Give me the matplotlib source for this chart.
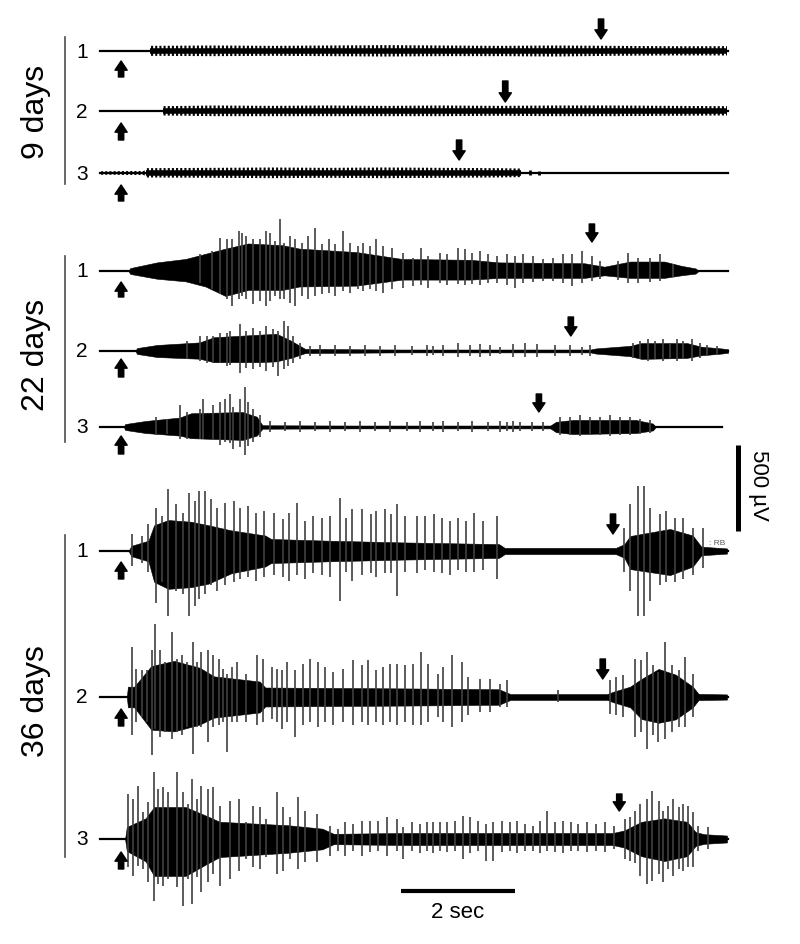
import numpy as np
import matplotlib
matplotlib.use('Agg')
import matplotlib.pyplot as plt

plt.rcParams['font.family'] = ['Liberation Sans', 'DejaVu Sans']

# ---------------- data: time in s, amplitude in uV ----------------
stim_on = [0.37] * 9
stim_off = [8.79, 7.11, 6.30, 8.63, 8.26, 7.70, 9.00, 8.82, 9.11]
trace_end = [11.02, 11.02, 11.02, 11.02, 11.02, 10.91, 11.02, 11.02, 11.02]

# 9 days (rhythmic small discharges)
d9_1_t = [0.87, 0.88, 2.0, 3.0, 4.0, 5.0, 6.0, 7.0, 8.0, 9.0, 10.0, 11.0]
d9_1_up = [0, 30, 32, 30, 32, 34, 32, 30, 32, 30, 28, 28]
d9_1_dn = [0, 28, 30, 28, 30, 32, 30, 30, 32, 28, 26, 26]
d9_2_t = [1.09, 1.10, 2.0, 3.0, 4.0, 5.0, 6.0, 7.0, 8.0, 9.0, 10.0, 11.0]
d9_2_up = [0, 28, 32, 30, 32, 30, 32, 30, 32, 32, 30, 28]
d9_2_dn = [0, 26, 30, 30, 30, 30, 30, 28, 30, 30, 28, 26]
d9_3_t = [0.0, 0.78, 0.80, 2.0, 3.0, 4.0, 5.0, 6.0, 7.0, 7.38, 7.40]
d9_3_up = [10, 12, 28, 30, 32, 30, 32, 30, 28, 26, 0]
d9_3_dn = [10, 12, 26, 28, 30, 28, 30, 28, 26, 24, 0]
d9_active = [(0.88, 11.0), (1.10, 11.0), (0.80, 7.38)]
d9_3_sp_t = [7.55, 7.70]
d9_3_sp_up = [17, 12]
d9_3_sp_dn = [12, 10]

# 22 days
d22_1_t = [0.50, 0.53, 1.0, 1.5, 1.85, 2.2, 2.6, 3.2, 3.5, 4.5, 5.3, 6.5, 7.0, 8.5, 8.85, 9.0, 9.3, 9.9, 10.2, 10.45, 10.5]
d22_1_up = [0, 17, 50, 70, 100, 130, 160, 150, 130, 110, 70, 65, 50, 45, 25, 35, 55, 55, 30, 15, 0]
d22_1_dn = [0, 17, 45, 60, 90, 145, 110, 110, 90, 85, 50, 50, 40, 40, 25, 30, 40, 40, 25, 15, 0]
d22_1_sp_t = [1.75, 1.96, 2.11, 2.22, 2.31, 2.43, 2.49, 2.57, 2.69, 2.81, 2.92, 2.98, 3.07, 3.16, 3.22,
              3.33, 3.42, 3.54, 3.65, 3.77, 3.89, 4.01, 4.12, 4.27, 4.39, 4.53, 4.62, 4.74, 4.85, 4.97,
              5.12, 5.32, 5.49, 5.64, 5.75, 5.96, 6.08, 6.28, 6.40, 6.52, 6.67, 6.81, 6.96, 7.14, 7.28,
              7.42, 7.60, 7.77, 7.95, 8.12, 8.28, 8.45, 8.63, 8.77, 9.09, 9.27, 9.44, 9.65, 9.82, 10.05]
d22_1_sp_up = [99, 116, 192, 186, 186, 232, 221, 203, 186, 186, 232, 221, 174, 302, 163,
               203, 186, 163, 203, 250, 157, 186, 157, 232, 163, 145, 163, 145, 186, 145,
               134, 105, 76, 134, 87, 105, 99, 134, 128, 105, 116, 99, 87, 99, 87,
               99, 87, 70, 76, 99, 99, 116, 87, 58, 58, 105, 76, 76, 99, 41]
d22_1_sp_dn = [70, 105, 134, 163, 203, 163, 145, 163, 192, 174, 203, 174, 145, 163, 163,
               186, 203, 145, 163, 145, 134, 128, 145, 116, 128, 105, 116, 105, 116, 128,
               105, 99, 87, 81, 99, 70, 81, 76, 81, 76, 81, 70, 70, 81, 99,
               70, 64, 58, 58, 70, 87, 70, 58, 46, 52, 70, 70, 64, 58, 35]

d22_2_t = [0.62, 0.65, 1.0, 1.75, 2.0, 2.8, 3.1, 3.35, 3.6, 5.3, 8.6, 8.7, 9.3, 9.5, 10.3, 10.55, 10.9, 11.02]
d22_2_up = [0, 17, 35, 50, 80, 95, 100, 60, 12, 8, 8, 15, 30, 46, 46, 25, 15, 10]
d22_2_dn = [0, 17, 35, 45, 65, 65, 60, 40, 12, 8, 8, 15, 30, 46, 40, 25, 15, 10]
d22_2_sp_t = [1.52, 1.75, 1.87, 1.99, 2.11, 2.22, 2.28, 2.46, 2.57, 2.69, 2.81, 2.92, 3.04, 3.13, 3.22,
              3.30, 3.39, 3.51, 3.68, 3.86, 4.12, 4.39, 4.65, 4.91, 5.18, 5.47, 5.74, 5.84, 6.02, 6.28,
              6.49, 6.67, 6.84, 7.02, 7.25, 7.46, 7.67, 7.98, 8.25, 8.46, 8.60, 9.35, 9.47, 9.61, 9.74,
              9.88, 10.00, 10.12, 10.23, 10.39, 10.53, 10.65, 10.82]
d22_2_sp_up = [58, 87, 87, 87, 105, 105, 116, 157, 116, 134, 116, 145, 128, 116, 174,
               145, 87, 46, 29, 35, 35, 29, 35, 29, 35, 29, 35, 29, 35, 46,
               35, 40, 35, 23, 40, 46, 40, 35, 35, 23, 35, 46, 58, 70, 58,
               70, 46, 70, 58, 70, 46, 35, 29]
d22_2_sp_dn = [46, 58, 70, 70, 70, 87, 81, 128, 99, 105, 93, 116, 93, 145, 105,
               87, 70, 46, 29, 29, 29, 29, 29, 29, 29, 23, 29, 23, 29, 35,
               29, 35, 29, 17, 35, 35, 35, 29, 29, 23, 29, 40, 46, 58, 46,
               58, 40, 58, 46, 58, 40, 29, 23]

d22_3_t = [0.42, 0.44, 0.8, 1.4, 1.6, 2.5, 2.75, 2.85, 4.5, 7.9, 8.0, 8.3, 9.4, 9.7, 9.75]
d22_3_up = [0, 17, 35, 55, 80, 87, 60, 10, 8, 8, 30, 41, 41, 20, 0]
d22_3_dn = [0, 17, 35, 50, 65, 75, 50, 10, 8, 8, 30, 41, 35, 20, 0]
d22_3_sp_t = [0.99, 1.17, 1.40, 1.52, 1.75, 1.81, 1.99, 2.11, 2.19, 2.28, 2.34, 2.46, 2.54, 2.60, 2.69,
              2.81, 2.98, 3.25, 3.51, 3.77, 4.04, 4.30, 4.56, 4.82, 5.09, 5.39, 5.61, 5.84, 6.02, 6.28,
              6.53, 6.81, 7.02, 7.14, 7.25, 7.37, 7.58, 7.77, 8.07, 8.25, 8.42, 8.60, 8.77, 8.95, 9.12,
              9.30, 9.47, 9.65]
d22_3_sp_up = [58, 46, 128, 87, 105, 163, 128, 145, 163, 192, 116, 163, 232, 145, 105,
               70, 35, 29, 35, 29, 35, 29, 35, 29, 35, 29, 35, 29, 35, 29,
               35, 29, 35, 29, 35, 29, 29, 29, 58, 58, 70, 58, 58, 70, 58,
               58, 46, 40]
d22_3_sp_dn = [46, 40, 70, 70, 70, 70, 70, 105, 87, 93, 128, 116, 163, 110, 87,
               58, 29, 23, 29, 23, 29, 23, 29, 23, 29, 23, 29, 23, 29, 23,
               29, 23, 29, 23, 29, 23, 23, 23, 46, 46, 52, 46, 46, 52, 46,
               46, 40, 35]

# 36 days
d36_1_t = [0.50, 0.55, 0.85, 0.95, 1.2, 1.6, 1.9, 2.3, 2.9, 3.0, 4.0, 5.3, 7.0, 7.1, 9.05, 9.2, 9.3, 10.0, 10.4, 10.55, 11.0]
d36_1_up = [0, 30, 60, 150, 180, 170, 150, 120, 90, 70, 60, 50, 40, 18, 18, 40, 87, 128, 90, 25, 15]
d36_1_dn = [0, 30, 60, 180, 220, 210, 190, 130, 90, 70, 60, 50, 40, 18, 18, 40, 105, 140, 90, 25, 15]
d36_1_sp_t = [0.56, 0.74, 0.84, 0.98, 1.09, 1.20, 1.34, 1.45, 1.56, 1.67, 1.74, 1.84, 1.95, 2.05, 2.20,
              2.35, 2.46, 2.60, 2.74, 2.88, 3.06, 3.21, 3.32, 3.46, 3.60, 3.74, 3.89, 4.03, 4.21, 4.32,
              4.42, 4.60, 4.75, 4.85, 5.00, 5.11, 5.21, 5.35, 5.57, 5.71, 5.86, 6.00, 6.14, 6.28, 6.42,
              6.57, 6.72, 6.96, 9.19, 9.29, 9.44, 9.54, 9.65, 9.82, 9.93, 10.08, 10.22, 10.40, 10.58]
d36_1_sp_up = [99, 87, 157, 250, 203, 360, 273, 221, 337, 290, 349, 349, 302, 250, 279,
               290, 250, 262, 221, 232, 221, 186, 221, 279, 174, 203, 192, 203, 308, 192,
               244, 244, 215, 232, 244, 215, 273, 203, 203, 203, 215, 192, 174, 192, 174,
               221, 174, 203, 133, 273, 378, 378, 250, 215, 232, 192, 192, 133, 133]
d36_1_sp_dn = [87, 70, 120, 300, 180, 378, 230, 250, 378, 320, 280, 250, 200, 230, 200,
               180, 160, 150, 175, 150, 140, 150, 175, 140, 160, 130, 140, 150, 290, 120,
               175, 140, 130, 150, 130, 130, 260, 120, 130, 110, 120, 130, 140, 110, 120,
               120, 110, 160, 120, 230, 378, 378, 290, 200, 180, 180, 160, 140, 100]

d36_2_t = [0.47, 0.49, 0.6, 0.9, 1.3, 1.75, 2.0, 2.8, 2.9, 5.3, 7.0, 7.2, 8.9, 9.0, 9.3, 9.5, 9.8, 10.1, 10.4, 10.5, 11.0]
d36_2_up = [0, 60, 60, 180, 210, 170, 120, 90, 55, 50, 45, 17, 17, 30, 60, 105, 163, 130, 60, 18, 15]
d36_2_dn = [0, 60, 60, 190, 200, 160, 120, 90, 55, 50, 45, 17, 17, 30, 60, 128, 150, 130, 60, 18, 15]
d36_2_sp_t = [0.57, 0.64, 0.73, 0.82, 0.91, 0.96, 1.05, 1.14, 1.26, 1.35, 1.43, 1.52, 1.63, 1.70, 1.78,
              1.90, 1.99, 2.08, 2.16, 2.22, 2.31, 2.40, 2.57, 2.75, 2.86, 3.01, 3.10, 3.19, 3.28, 3.42,
              3.56, 3.68, 3.82, 3.95, 4.09, 4.26, 4.44, 4.59, 4.71, 4.85, 4.96, 5.09, 5.21, 5.35, 5.49,
              5.64, 5.75, 5.93, 6.02, 6.17, 6.35, 6.46, 6.67, 6.84, 7.02, 7.14, 8.04, 8.95, 9.06, 9.18,
              9.39, 9.50, 9.59, 9.70, 9.79, 9.91, 10.03, 10.15, 10.26, 10.40]
d36_2_sp_up = [290, 163, 157, 157, 273, 424, 273, 203, 378, 221, 244, 203, 320, 203, 262,
               273, 244, 221, 163, 134, 174, 203, 134, 244, 221, 174, 163, 157, 203, 157,
               192, 221, 203, 174, 145, 163, 215, 186, 215, 157, 174, 192, 192, 186, 192,
               262, 192, 134, 174, 244, 203, 116, 105, 105, 76, 99, 41, 99, 116, 128,
               221, 215, 262, 186, 145, 320, 186, 157, 232, 134]
d36_2_sp_dn = [221, 145, 116, 145, 337, 186, 232, 203, 244, 203, 221, 174, 331, 174, 174,
               262, 174, 163, 145, 320, 145, 145, 145, 163, 145, 128, 145, 186, 145, 232,
               163, 145, 174, 145, 163, 145, 163, 145, 163, 145, 163, 145, 163, 145, 163,
               163, 145, 116, 145, 174, 145, 105, 87, 87, 58, 58, 29, 99, 105, 116,
               232, 203, 302, 221, 262, 244, 203, 174, 174, 116]

d36_3_t = [0.44, 0.47, 0.8, 0.95, 1.5, 1.9, 2.1, 3.3, 3.9, 4.1, 5.3, 9.0, 9.2, 9.5, 9.9, 10.3, 10.45, 10.6, 11.0]
d36_3_up = [0, 70, 120, 186, 186, 130, 100, 80, 60, 30, 35, 35, 50, 100, 120, 100, 40, 28, 20]
d36_3_dn = [0, 70, 130, 215, 215, 140, 105, 80, 60, 30, 35, 35, 50, 100, 128, 100, 40, 28, 20]
d36_3_sp_t = [0.50, 0.58, 0.67, 0.76, 0.85, 0.94, 1.02, 1.11, 1.20, 1.35, 1.46, 1.55, 1.61, 1.70, 1.78,
              1.90, 1.99, 2.11, 2.28, 2.43, 2.57, 2.69, 2.81, 2.92, 3.10, 3.21, 3.33, 3.48, 3.60, 3.80,
              4.04, 4.18, 4.30, 4.44, 4.59, 4.74, 4.88, 5.03, 5.21, 5.32, 5.47, 5.61, 5.73, 5.85, 5.96,
              6.08, 6.23, 6.37, 6.49, 6.64, 6.78, 6.90, 7.05, 7.19, 7.31, 7.46, 7.60, 7.72, 7.84, 7.98,
              8.13, 8.27, 8.39, 8.54, 8.71, 8.86, 9.01, 9.21, 9.30, 9.39, 9.47, 9.59, 9.68, 9.80, 9.88,
              9.97, 10.06, 10.15, 10.23, 10.32, 10.41, 10.50, 10.67]
d36_3_sp_up = [262, 232, 308, 157, 215, 390, 290, 302, 273, 390, 273, 203, 349, 232, 308,
               290, 302, 192, 221, 232, 99, 192, 186, 116, 273, 186, 128, 244, 163, 145,
               76, 58, 99, 87, 105, 105, 105, 128, 116, 70, 99, 87, 99, 99, 99,
               99, 105, 134, 128, 105, 87, 99, 105, 99, 105, 87, 76, 105, 163, 99,
               105, 99, 87, 99, 87, 99, 76, 116, 128, 163, 203, 232, 279, 221, 163,
               192, 232, 186, 203, 192, 157, 76, 70]
d36_3_sp_dn = [163, 215, 157, 174, 250, 360, 262, 273, 232, 279, 390, 232, 378, 221, 308,
               250, 203, 273, 232, 186, 116, 163, 174, 105, 203, 186, 116, 174, 134, 134,
               99, 70, 99, 70, 99, 76, 70, 99, 70, 116, 70, 81, 70, 81, 70,
               76, 70, 116, 81, 70, 128, 128, 76, 70, 81, 70, 70, 81, 70, 76,
               81, 70, 70, 76, 70, 76, 58, 116, 128, 140, 215, 262, 244, 203, 250,
               174, 215, 174, 186, 163, 163, 70, 58]

# ---------------- layout (pixels of the 800x945 canvas) ----------------
PX_S = 57.0            # px per second
PX_UV = 86.0 / 500.0   # px per microvolt


def X(px):
    return (px - 100) / PX_S


def Y(py):
    return -py / PX_UV


baseline_px = [52, 112, 174, 272, 352, 428, 552, 698, 840]
off_arrow_px = [(32, 12), (30, 9), (33, 13), (47, 29), (34, 15), (33, 15), (37, 17), (38, 18), (45, 28)]
on_arrow_px = [(26, 10), (29, 12), (28, 12), (26, 11), (26, 8), (27, 9), (28, 11), (29, 12), (30, 13)]

plt.rcParams['hatch.linewidth'] = 1.5

fig = plt.figure(figsize=(8, 9.45), dpi=100)
ax = fig.add_axes([0, 0, 1, 1])
ax.set_xlim(X(0), X(800))
ax.set_ylim(Y(945), Y(0))
ax.axis('off')


def draw_burst(base, t, up, dn, sp_t=None, sp_up=None, sp_dn=None):
    t, up, dn = np.asarray(t), np.asarray(up), np.asarray(dn)
    ax.fill_between(t, base + up, base - dn, color='k', lw=0.4)
    if sp_t is not None:
        ax.vlines(sp_t, base - np.asarray(sp_dn), base + np.asarray(sp_up),
                  color='0.25', lw=1.2)


def draw_rhythm(base, t, up, dn, active):
    t, up, dn = np.asarray(t), np.asarray(up), np.asarray(dn)
    ax.fill_between(t, base + up, base - dn, facecolor='none', edgecolor='k',
                    hatch='||||', lw=0)
    ax.plot(active, [base, base], color='k', lw=4, solid_capstyle='butt')


bases = [Y(p) for p in baseline_px]
for i, b in enumerate(bases):
    ax.plot([0, trace_end[i]], [b, b], color='k', lw=1.6)

draw_rhythm(bases[0], d9_1_t, d9_1_up, d9_1_dn, d9_active[0])
draw_rhythm(bases[1], d9_2_t, d9_2_up, d9_2_dn, d9_active[1])
draw_rhythm(bases[2], d9_3_t, d9_3_up, d9_3_dn, d9_active[2])
ax.vlines(d9_3_sp_t, bases[2] - np.asarray(d9_3_sp_dn), bases[2] + np.asarray(d9_3_sp_up), color='k', lw=2)

draw_burst(bases[3], d22_1_t, d22_1_up, d22_1_dn, d22_1_sp_t, d22_1_sp_up, d22_1_sp_dn)
draw_burst(bases[4], d22_2_t, d22_2_up, d22_2_dn, d22_2_sp_t, d22_2_sp_up, d22_2_sp_dn)
draw_burst(bases[5], d22_3_t, d22_3_up, d22_3_dn, d22_3_sp_t, d22_3_sp_up, d22_3_sp_dn)
draw_burst(bases[6], d36_1_t, d36_1_up, d36_1_dn, d36_1_sp_t, d36_1_sp_up, d36_1_sp_dn)
draw_burst(bases[7], d36_2_t, d36_2_up, d36_2_dn, d36_2_sp_t, d36_2_sp_up, d36_2_sp_dn)
draw_burst(bases[8], d36_3_t, d36_3_up, d36_3_dn, d36_3_sp_t, d36_3_sp_up, d36_3_sp_dn)

# stimulus on / off arrows
arrow = dict(arrowstyle='simple,head_length=0.6,head_width=0.8,tail_width=0.35',
             mutation_scale=11, color='k', shrinkA=0, shrinkB=0)
for i, b in enumerate(bases):
    tail, tip = on_arrow_px[i]
    ax.annotate('', xy=(stim_on[i], b - tip / PX_UV), xytext=(stim_on[i], b - tail / PX_UV),
                arrowprops=arrow)
    tail, tip = off_arrow_px[i]
    ax.annotate('', xy=(stim_off[i], b + tip / PX_UV), xytext=(stim_off[i], b + tail / PX_UV),
                arrowprops=arrow)

# trace numbers
for i, b in enumerate(bases):
    ax.text(X(82), b, str(i % 3 + 1), fontsize=15, ha='center', va='center')

# group brackets and labels
groups = [('9 days', 38, 185, 112), ('22 days', 257, 443, 355), ('36 days', 536, 858, 701)]
for name, y0, y1, yc in groups:
    ax.plot([X(65), X(65)], [Y(y0), Y(y1)], color='0.3', lw=1.2)
    ax.text(X(36), Y(yc), name, fontsize=23, rotation=90, ha='center', va='center')

# scale bars
ax.plot([X(401), X(401) + 2.0], [Y(892), Y(892)], color='k', lw=3, solid_capstyle='butt')
ax.text(X(401) + 1.0, Y(913), '2 sec', fontsize=16, ha='center', va='center')
ax.plot([X(738), X(738)], [Y(532), Y(532) + 500], color='k', lw=3.6, solid_capstyle='butt')
ax.text(X(759), Y(485), '500 µV', fontsize=16, rotation=270, ha='center', va='center')
ax.text(X(717), Y(544), ': RB', fontsize=6, color='0.35', ha='center', va='center')

fig.savefig('out.png', dpi=100, facecolor='white')
